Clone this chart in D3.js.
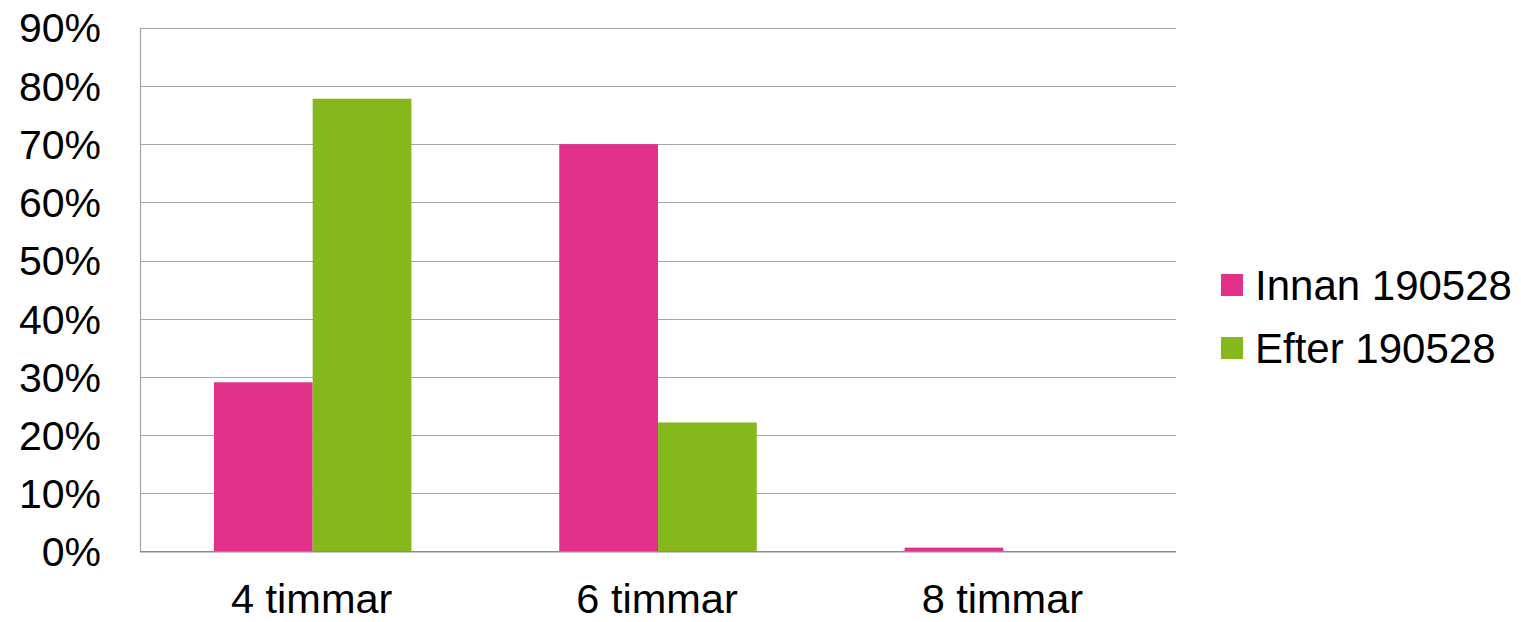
<!DOCTYPE html>
<html>
<head>
<meta charset="utf-8">
<script src="https://cdn.jsdelivr.net/npm/d3@7"></script>
<style>
  html, body { margin: 0; padding: 0; background: #fff; }
  svg { display: block; font-family: "Liberation Sans", Arial, sans-serif; }
</style>
</head>
<body>
<svg id="chart" width="1521" height="622"></svg>
<script>
// Andel per arbetspass-längd, före och efter 190528
const categories = ["4 timmar", "6 timmar", "8 timmar"];
const seriesNames = ["Innan 190528", "Efter 190528"];
const innan = [29.1, 70.0, 0.7];
const efter = [77.8, 22.2, 0];
const yTicks = [0, 10, 20, 30, 40, 50, 60, 70, 80, 90];
const colors = ["#E1318A", "#85B81D"];

const svg = d3.select("#chart");
const plotLeft = 140, plotRight = 1176, plotTop = 27.7, plotBottom = 551.7;

const x = d3.scaleBand().domain(categories).range([plotLeft, plotRight])
  .paddingInner(0.428).paddingOuter(0.214);
const xs = d3.scaleBand().domain(seriesNames).range([0, x.bandwidth()]);
const y = d3.scaleLinear().domain([0, 90]).range([plotBottom, plotTop]);

// horizontal gridlines
svg.append("g").selectAll("line").data(yTicks.filter(d => d > 0)).join("line")
  .attr("x1", plotLeft).attr("x2", plotRight)
  .attr("y1", d => Math.round(y(d)) + 0.5).attr("y2", d => Math.round(y(d)) + 0.5)
  .attr("stroke", "#A6A6A6").attr("stroke-width", 1.2);

// vertical axis line
svg.append("line").attr("x1", plotLeft + 0.5).attr("x2", plotLeft + 0.5)
  .attr("y1", y(90)).attr("y2", plotBottom)
  .attr("stroke", "#A6A6A6").attr("stroke-width", 1.2);

// bars
const rows = categories.map((c, i) => ({ c, vals: [innan[i], efter[i]] }));
const groups = svg.append("g").selectAll("g").data(rows).join("g")
  .attr("transform", d => `translate(${x(d.c)},0)`);
groups.selectAll("rect").data(d => d.vals.map((v, k) => ({ v, k })).filter(e => e.v > 0)).join("rect")
  .attr("x", e => xs(seriesNames[e.k]))
  .attr("width", xs.bandwidth())
  .attr("y", e => y(e.v))
  .attr("height", e => plotBottom - y(e.v))
  .attr("fill", e => colors[e.k]);

// baseline
svg.append("line").attr("x1", plotLeft).attr("x2", plotRight)
  .attr("y1", plotBottom).attr("y2", plotBottom)
  .attr("stroke", "#8C8C8C").attr("stroke-width", 1.5);

// y tick labels
svg.append("g").selectAll("text").data(yTicks).join("text")
  .attr("x", 101).attr("y", d => y(d))
  .attr("dy", "0.36em")
  .attr("text-anchor", "end")
  .attr("font-size", 41)
  .attr("fill", "#000")
  .text(d => d + "%");

// category labels
svg.append("g").selectAll("text").data(categories).join("text")
  .attr("x", d => x(d) + x.bandwidth() / 2 - 1)
  .attr("y", 613)
  .attr("text-anchor", "middle")
  .attr("font-size", 41.5)
  .attr("fill", "#000")
  .text(d => d);

// legend
const legend = svg.append("g").selectAll("g").data(seriesNames).join("g")
  .attr("transform", (d, i) => `translate(1221,${274 + i * 63})`);
legend.append("rect").attr("width", 22).attr("height", 22).attr("fill", (d, i) => colors[i]);
legend.append("text").attr("x", 34).attr("y", 25.5)
  .attr("font-size", 42).attr("fill", "#000").text(d => d);
</script>
</body>
</html>
